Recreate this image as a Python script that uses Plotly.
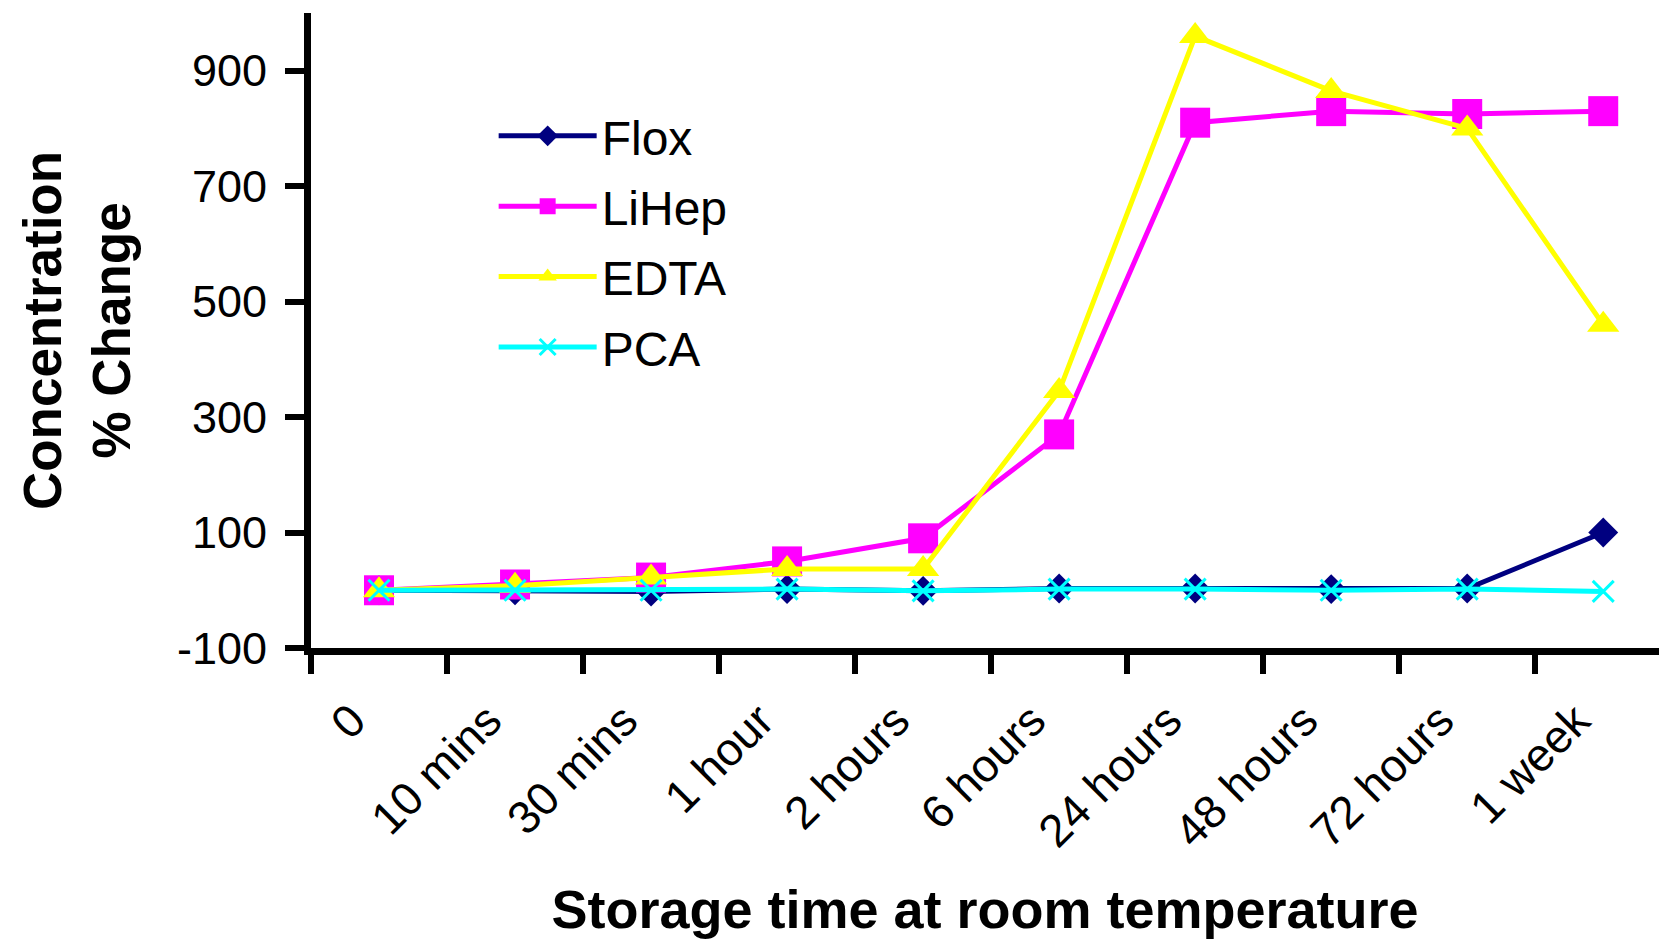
import plotly.graph_objects as go

categories = ["0", "10 mins", "30 mins", "1 hour", "2 hours", "6 hours",
              "24 hours", "48 hours", "72 hours", "1 week"]
flox = [0, 0, -2, 2, -1, 3, 3, 2, 3, 100]
lihep = [0, 10, 22, 50, 90, 270, 810, 830, 825, 830]
edta = [0, 8, 22, 37, 37, 345, 960, 865, 800, 460]
pca = [0, 0, 0, 2, -1, 2, 2, 0, 2, -2]

y_ticks = [-100, 100, 300, 500, 700, 900]
y_ticktext = ["-100", "100", "300", "500", "700", "900"]

FONT = "Liberation Sans, Arial, sans-serif"

series = [
    ("Flox", flox, "#000080", dict(symbol="diamond", size=23)),
    ("LiHep", lihep, "#FF00FF", dict(symbol="square", size=30)),
    ("EDTA", edta, "#FFFF00", dict(symbol="triangle-up", size=28)),
    ("PCA", pca, "#00FFFF", dict(symbol="x-thin", size=21)),
]

fig = go.Figure()
for name, vals, col, mk in series:
    marker = dict(color=col, **mk)
    if mk["symbol"] == "x-thin":
        marker["line"] = dict(color=col, width=3)
    else:
        marker["line"] = dict(width=0)
    fig.add_trace(go.Scatter(
        x=categories, y=vals, name=name, mode="lines+markers",
        line=dict(color=col, width=5), marker=marker, legendgroup=name,
    ))

fig.update_layout(
    width=1659, height=939,
    margin=dict(l=311, r=0, t=13, b=291),
    paper_bgcolor="white", plot_bgcolor="white",
    font=dict(family=FONT, color="black", size=46),
    showlegend=True,
    legend=dict(
        x=0.1355, y=0.866, xanchor="left", yanchor="top",
        font=dict(family=FONT, size=48, color="black"),
        bgcolor="rgba(0,0,0,0)", traceorder="grouped", tracegroupgap=5,
        itemwidth=98,
    ),
)

fig.update_xaxes(
    type="category", range=[-0.5, 9.41],
    showline=True, linecolor="black", linewidth=7,
    ticks="outside", tickson="boundaries", ticklen=19, tickwidth=6, tickcolor="black",
    tickangle=-45, tickfont=dict(family=FONT, size=46, color="black"),
    ticklabelshift=-27, ticklabelstandoff=20,
    showgrid=False, zeroline=False,
    title=dict(text="<b>Storage time at room temperature</b>",
               font=dict(family=FONT, size=54, color="black"), standoff=45),
)
fig.update_yaxes(
    range=[-100, 1000], tickmode="array", tickvals=y_ticks, ticktext=y_ticktext,
    showline=True, linecolor="black", linewidth=7,
    ticks="outside", ticklen=19, tickwidth=6, tickcolor="black",
    tickfont=dict(family=FONT, size=45, color="black"),
    ticklabelstandoff=9,
    showgrid=False, zeroline=False,
    title=dict(text="<b>Concentration<br>% Change</b>",
               font=dict(family=FONT, size=53, color="black"), standoff=32),
)

fig.write_html("out.html")
